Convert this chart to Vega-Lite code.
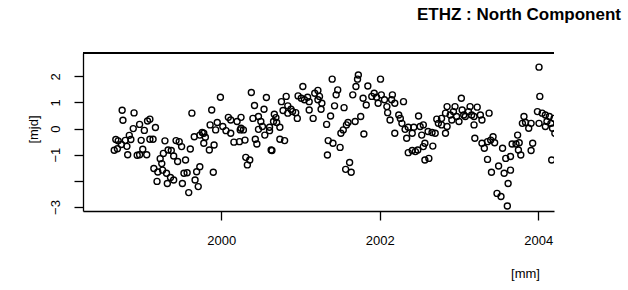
{
  "$schema": "https://vega.github.io/schema/vega-lite/v6.json",
  "autosize": {"type": "none"},
  "width": 471,
  "height": 158,
  "padding": {"left": 83, "top": 53, "right": 74, "bottom": 79},
  "background": "white",
  "title": {"text": "ETHZ : North Component", "anchor": "start", "frame": "group", "dx": 334, "offset": 15, "baseline": "alphabetic", "font": "Liberation Sans", "fontSize": 17, "fontWeight": "bold", "color": "black"},
  "config": {
    "view": {"stroke": null},
    "axis": {"grid": false, "domainColor": "black", "tickColor": "black", "labelColor": "black", "titleColor": "black", "domainWidth": 1.3, "tickWidth": 1.3, "tickSize": 9, "labelFont": "Liberation Sans", "titleFont": "Liberation Sans", "labelFontSize": 13, "titleFontSize": 13, "titleFontWeight": "normal", "labelOverlap": false}
  },
  "data": {"values": [
    {"t":1998.67,"v":-0.42},{"t":1998.70,"v":-0.47},{"t":1998.65,"v":-0.83},{"t":1998.69,"v":-0.77},{"t":1998.75,"v":0.70},{"t":1998.76,"v":0.32},{"t":1998.74,"v":-0.61},{"t":1998.79,"v":-0.45},{"t":1998.81,"v":-0.68},{"t":1998.82,"v":-1.00},{"t":1998.84,"v":-0.26},{"t":1998.86,"v":-0.42},{"t":1998.89,"v":0.00},{"t":1998.90,"v":0.60},{"t":1998.94,"v":-1.02},{"t":1998.97,"v":-1.00},{"t":1998.97,"v":0.16},{"t":1998.99,"v":-0.45},{"t":1999.01,"v":-0.79},{"t":1999.03,"v":-0.07},{"t":1999.06,"v":-1.00},{"t":1999.07,"v":0.29},{"t":1999.10,"v":0.36},{"t":1999.10,"v":-0.41},{"t":1999.14,"v":-0.41},{"t":1999.17,"v":0.04},{"t":1999.15,"v":-1.53},{"t":1999.20,"v":-1.66},{"t":1999.19,"v":-2.02},{"t":1999.23,"v":-1.15},
    {"t":1999.25,"v":-1.34},{"t":1999.27,"v":-0.95},{"t":1999.29,"v":-0.47},{"t":1999.26,"v":-1.59},{"t":1999.31,"v":-1.71},{"t":1999.33,"v":-0.82},{"t":1999.36,"v":-1.87},{"t":1999.37,"v":-0.84},{"t":1999.40,"v":-1.05},{"t":1999.40,"v":-1.97},{"t":1999.43,"v":-0.46},{"t":1999.47,"v":-0.50},{"t":1999.45,"v":-1.26},{"t":1999.50,"v":-0.69},{"t":1999.51,"v":-2.10},{"t":1999.32,"v":-2.10},{"t":1999.55,"v":-1.20},{"t":1999.53,"v":-1.71},{"t":1999.57,"v":-1.69},{"t":1999.59,"v":-2.45},{"t":1999.61,"v":-0.78},{"t":1999.63,"v":0.59},{"t":1999.66,"v":-0.31},{"t":1999.67,"v":-1.97},{"t":1999.69,"v":-1.65},{"t":1999.71,"v":-2.22},{"t":1999.73,"v":-1.46},{"t":1999.73,"v":-0.25},{"t":1999.76,"v":-0.15},{"t":1999.78,"v":-0.18},{"t":1999.78,"v":-0.56},{"t":1999.80,"v":-0.33},{"t":1999.85,"v":-0.82},{"t":1999.88,"v":0.71},{"t":1999.90,"v":-1.67},{"t":1999.91,"v":-0.63},{"t":1999.99,"v":1.20},{"t":1999.95,"v":0.23},{"t":1999.86,"v":0.14},{"t":2000.02,"v":0.08},{"t":1999.93,"v":-0.05},{"t":2000.06,"v":-0.08},{"t":2000.12,"v":-0.18},{"t":2000.16,"v":-0.52},{"t":2000.25,"v":0.01},{"t":2000.09,"v":0.43},{"t":2000.12,"v":0.33},{"t":2000.20,"v":0.27},{"t":2000.25,"v":0.43},
    {"t":2000.38,"v":1.38},{"t":2000.42,"v":0.88},{"t":2000.57,"v":1.19},{"t":2000.54,"v":0.74},{"t":2000.24,"v":-0.05},{"t":2000.28,"v":-0.05},{"t":2000.30,"v":-0.44},{"t":2000.23,"v":-0.50},{"t":2000.40,"v":0.39},{"t":2000.47,"v":0.46},{"t":2000.50,"v":0.27},{"t":2000.47,"v":-0.03},{"t":2000.52,"v":0.08},{"t":2000.61,"v":0.05},{"t":2000.61,"v":-0.08},{"t":2000.55,"v":-0.25},{"t":2000.43,"v":-0.41},{"t":2000.45,"v":-0.59},{"t":2000.67,"v":0.55},{"t":2000.69,"v":0.42},{"t":2000.66,"v":0.27},{"t":2000.70,"v":0.23},{"t":2000.74,"v":0.05},{"t":2000.74,"v":-0.41},{"t":2000.80,"v":-0.46},{"t":2000.63,"v":-0.82},{"t":2000.64,"v":-0.84},{"t":2000.31,"v":-1.10},{"t":2000.36,"v":-1.20},{"t":2000.33,"v":-1.39},{"t":2000.76,"v":1.03},{"t":2000.82,"v":1.23},{"t":2000.84,"v":0.87},{"t":2000.88,"v":0.74},{"t":2000.90,"v":0.65},{"t":2000.94,"v":0.61},{"t":2000.84,"v":0.59},{"t":2000.96,"v":0.39},{"t":2000.97,"v":1.25},{"t":2001.03,"v":1.61},{"t":2001.01,"v":1.16},{"t":2001.05,"v":1.10},{"t":2001.09,"v":1.20},{"t":2001.11,"v":1.03},{"t":2001.11,"v":0.71},{"t":2001.16,"v":0.39},{"t":2001.18,"v":1.35},{"t":2001.22,"v":1.10},{"t":2000.78,"v":0.69},
    {"t":2001.22,"v":1.46},{"t":2001.24,"v":1.23},{"t":2001.27,"v":0.97},{"t":2001.26,"v":0.74},{"t":2001.40,"v":1.89},{"t":2001.47,"v":1.48},{"t":2001.45,"v":1.29},{"t":2001.43,"v":0.87},{"t":2001.55,"v":0.80},{"t":2001.38,"v":0.48},{"t":2001.33,"v":0.16},{"t":2001.73,"v":2.05},{"t":2001.72,"v":1.89},{"t":2001.70,"v":1.61},{"t":2001.66,"v":1.29},{"t":2001.76,"v":0.46},{"t":2001.69,"v":0.27},{"t":2001.60,"v":0.23},{"t":2001.58,"v":0.14},{"t":2001.54,"v":-0.05},{"t":2001.51,"v":-0.18},{"t":2001.35,"v":-0.46},{"t":2001.41,"v":-0.56},{"t":2001.50,"v":-0.72},{"t":2001.34,"v":-1.01},{"t":2001.62,"v":-1.30},{"t":2001.57,"v":-1.56},{"t":2001.64,"v":-1.67},{"t":2001.80,"v":-0.21},{"t":2001.85,"v":1.63},{"t":2001.79,"v":1.16},{"t":2001.83,"v":0.90},{"t":2001.90,"v":1.23},{"t":2001.93,"v":1.35},{"t":2001.96,"v":1.20},{"t":2001.98,"v":0.97},{"t":2002.02,"v":1.29},{"t":2002.01,"v":1.89},{"t":2002.06,"v":1.10},{"t":2002.09,"v":0.84},{"t":2002.10,"v":0.61},{"t":2002.13,"v":0.33},{"t":2002.16,"v":1.29},{"t":2002.19,"v":-0.18},
    {"t":2002.19,"v":0.97},{"t":2002.15,"v":1.10},{"t":2002.30,"v":1.03},{"t":2002.24,"v":0.52},{"t":2002.26,"v":0.39},{"t":2002.28,"v":0.20},{"t":2002.32,"v":-0.03},{"t":2002.34,"v":-0.37},{"t":2002.36,"v":0.05},{"t":2002.43,"v":0.05},{"t":2002.41,"v":-0.18},{"t":2002.49,"v":0.48},{"t":2002.51,"v":0.08},{"t":2002.55,"v":0.14},{"t":2002.53,"v":-0.25},{"t":2002.61,"v":-0.11},{"t":2002.66,"v":-0.15},{"t":2002.70,"v":-0.18},{"t":2002.57,"v":-0.56},{"t":2002.55,"v":-0.69},{"t":2002.48,"v":-0.82},{"t":2002.41,"v":-0.84},{"t":2002.36,"v":-0.92},{"t":2002.45,"v":-0.88},{"t":2002.67,"v":-0.67},{"t":2002.57,"v":-1.20},{"t":2002.62,"v":-1.14},{"t":2002.72,"v":0.36},{"t":2002.74,"v":0.20},{"t":2002.78,"v":0.39},{"t":2002.85,"v":0.84},{"t":2002.83,"v":0.59},{"t":2002.78,"v":0.14},{"t":2002.85,"v":0.08},{"t":2002.83,"v":-0.18},{"t":2002.89,"v":0.52},{"t":2002.93,"v":0.65},{"t":2002.95,"v":0.84},{"t":2002.91,"v":0.33},{"t":2002.97,"v":0.46},{"t":2003.00,"v":0.27},{"t":2003.03,"v":1.16},{"t":2003.04,"v":0.71},{"t":2003.06,"v":0.52},{"t":2003.08,"v":0.46},{"t":2003.12,"v":0.65},{"t":2003.14,"v":0.84},{"t":2003.16,"v":0.52},
    {"t":2003.23,"v":0.82},{"t":2003.19,"v":0.46},{"t":2003.27,"v":0.52},{"t":2003.29,"v":0.33},{"t":2003.19,"v":0.14},{"t":2003.38,"v":0.59},{"t":2003.20,"v":-0.37},{"t":2003.29,"v":-0.56},{"t":2003.32,"v":-0.75},{"t":2003.36,"v":-0.50},{"t":2003.40,"v":-0.44},{"t":2003.43,"v":-0.31},{"t":2003.45,"v":-0.54},{"t":2003.55,"v":-0.75},{"t":2003.36,"v":-1.18},{"t":2003.41,"v":-1.67},{"t":2003.50,"v":-1.43},{"t":2003.57,"v":-1.71},{"t":2003.59,"v":-1.14},{"t":2003.65,"v":-1.07},{"t":2003.65,"v":-1.59},{"t":2003.62,"v":-2.10},{"t":2003.67,"v":-0.59},{"t":2003.72,"v":-0.59},{"t":2003.74,"v":-0.25},{"t":2003.76,"v":-0.54},{"t":2003.75,"v":-0.82},{"t":2003.78,"v":-1.01},{"t":2003.48,"v":-2.48},{"t":2003.53,"v":-2.60},{"t":2003.61,"v":-2.96},{"t":2003.82,"v":0.46},{"t":2003.80,"v":0.20},{"t":2003.84,"v":0.23},{"t":2003.88,"v":0.01},{"t":2003.91,"v":0.20},{"t":2003.93,"v":-0.56},{"t":2003.91,"v":-0.84},{"t":2004.01,"v":2.35},{"t":2004.02,"v":1.23},{"t":2003.99,"v":0.65},{"t":2004.01,"v":0.20},{"t":2004.05,"v":0.59},{"t":2004.09,"v":0.52},{"t":2004.11,"v":0.27},{"t":2004.14,"v":0.46},{"t":2004.16,"v":0.20},{"t":2004.09,"v":0.08},{"t":2004.18,"v":0.01},{"t":2004.20,"v":0.39},{"t":2004.21,"v":-0.18},{"t":2004.17,"v":-1.20}
  ]},
  "layer": [
    {
      "mark": {"type": "point", "shape": "circle", "filled": false, "stroke": "black", "strokeWidth": 1.4, "size": 36, "opacity": 1, "clip": true},
      "encoding": {
        "x": {"field": "t", "type": "quantitative", "scale": {"domain": [1998.256, 2004.199], "nice": false, "zero": false},
          "axis": {"orient": "bottom", "values": [2000, 2002, 2004], "format": "d", "labelPadding": 14, "labelBaseline": "top", "labelOverlap": false, "title": "[mm]", "titleX": 442, "titleY": 62, "titleAlign": "center", "titleBaseline": "middle", "titleAnchor": null}},
        "y": {"field": "v", "type": "quantitative", "scale": {"domain": [-3.153, 2.891], "nice": false, "zero": false},
          "axis": {"values": [-3, -2, -1, 0, 1, 2], "labelExpr": "datum.value == -2 ? '' : format(datum.value, 'd')", "labelOverlap": false, "labelAngle": -90, "labelAlign": "center", "labelBaseline": "middle", "labelPadding": 19, "title": "[mjd]", "titleAngle": -90, "titleX": -50, "titleY": 76, "titleAlign": "center", "titleBaseline": "middle"}}
      }
    },
    {
      "mark": {"type": "rule", "color": "black", "strokeWidth": 1.3},
      "encoding": {"y": {"datum": 2.891,
          "axis": {"values": [-3, -2, -1, 0, 1, 2], "labelExpr": "datum.value == -2 ? '' : format(datum.value, 'd')", "labelOverlap": false, "labelAngle": -90, "labelAlign": "center", "labelBaseline": "middle", "labelPadding": 19, "title": "[mjd]", "titleAngle": -90, "titleX": -50, "titleY": 76, "titleAlign": "center", "titleBaseline": "middle"}}}
    }
  ]
}
